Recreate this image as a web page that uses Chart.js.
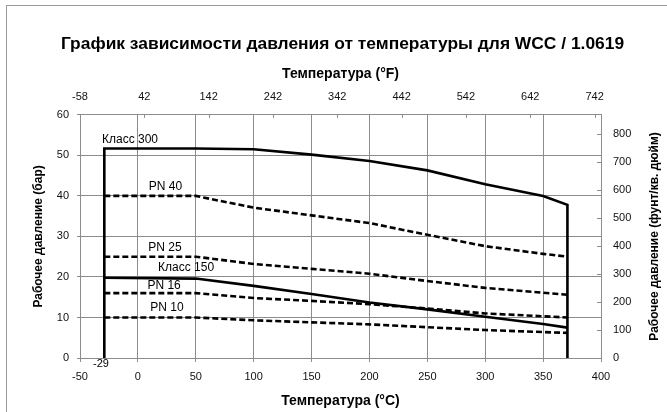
<!DOCTYPE html>
<html>
<head>
<meta charset="utf-8">
<script src="https://cdn.jsdelivr.net/npm/chart.js@4"></script>
<style>
  body { margin: 0; background: #fff; overflow: hidden; }
  #ramka { position: absolute; left: 6px; top: 5px; width: 700px; height: 500px; border: 1px solid #9a9a9a; }
  #kutu { position: absolute; left: 0; top: 0; width: 667px; height: 412px; }
</style>
</head>
<body>
<div id="ramka"></div>
<div id="kutu"><canvas id="grafik" width="667" height="412"></canvas></div>
<script>
// Температура (°C) и давления (бар) по кривым
const temperatury = [-29, 50, 100, 150, 200, 250, 300, 350, 371];
const klass300 = [51.7, 51.7, 51.5, 50.2, 48.6, 46.3, 42.9, 40.0, 37.8];
const klass150 = [19.8, 19.6, 17.8, 15.8, 13.7, 12.0, 10.2, 8.4, 7.5];
const pn40 = [40, 40, 37.1, 35.2, 33.3, 30.4, 27.6, 25.7, 25.0];
const pn25 = [25, 25, 23.2, 22.0, 20.8, 19.0, 17.3, 16.1, 15.6];
const pn16 = [16, 16, 14.8, 14.1, 13.3, 12.2, 11.0, 10.3, 10.0];
const pn10 = [10, 10, 9.3, 8.8, 8.3, 7.6, 6.9, 6.4, 6.2];

// Верхняя шкала (°F)
const tickiF = [-58, 42, 142, 242, 342, 442, 542, 642, 742];

// Подписи кривых (в координатах данных)
const podpisi = ["Класс 300", "PN 40", "PN 25", "Класс 150", "PN 16", "PN 10", "-29"];
const podpisiX = [-6.8, 23.8, 23.4, 41.6, 22.6, 25.1, -31.9];
const podpisiY = [53.9, 42.4, 27.3, 22.4, 17.9, 12.5, -1.5];

const SERYI = "#8c8c8c";
const SHRIFT = "'Liberation Sans', Arial, sans-serif";

const tochki = (ys) => temperatury.map((t, i) => ({ x: t, y: ys[i] }));

// класс 300 замыкается вертикалями до нуля на краях диапазона
const liniya300 = [{ x: temperatury[0], y: 0 }, ...tochki(klass300), { x: temperatury[temperatury.length - 1], y: 0 }];

function nabor(label, data, shtrih) {
  return {
    label, data,
    borderColor: "#000",
    borderWidth: 2.6,
    borderDash: shtrih ? [6, 3] : [],
    pointRadius: 0,
    tension: 0,
    fill: false,
  };
}

const dopolnenie = {
  id: "dopolnenie",
  afterDraw(chart) {
    const { ctx, chartArea: a, scales } = chart;
    ctx.save();
    // короткие внутренние засечки верхней и правой шкал
    ctx.strokeStyle = SERYI;
    ctx.lineWidth = 1;
    for (const t of scales.x2.ticks) {
      const px = Math.round(scales.x2.getPixelForValue(t.value)) + 0.5;
      ctx.beginPath(); ctx.moveTo(px, a.top); ctx.lineTo(px, a.top + 3); ctx.stroke();
    }
    for (const t of scales.y2.ticks) {
      const py = Math.round(scales.y2.getPixelForValue(t.value)) + 0.5;
      ctx.beginPath(); ctx.moveTo(a.right, py); ctx.lineTo(a.right - 4, py); ctx.stroke();
    }
    // подписи кривых
    ctx.fillStyle = "#000";
    ctx.textAlign = "center";
    ctx.textBaseline = "middle";
    podpisi.forEach((txt, i) => {
      ctx.font = (txt === "-29" ? "11px " : "12px ") + SHRIFT;
      ctx.fillText(txt, scales.x.getPixelForValue(podpisiX[i]), scales.y.getPixelForValue(podpisiY[i]));
    });
    // заголовок правой оси (снизу вверх)
    ctx.font = "bold 12px " + SHRIFT;
    ctx.translate(655, (a.top + a.bottom) / 2);
    ctx.rotate(-Math.PI / 2);
    ctx.fillText("Рабочее давление (фунт/кв. дюйм)", 0, 0);
    ctx.restore();
  },
};

Chart.defaults.font.family = SHRIFT;
Chart.defaults.color = "#111";

new Chart(document.getElementById("grafik"), {
  type: "line",
  data: {
    datasets: [
      nabor("Класс 300", liniya300, false),
      nabor("Класс 150", tochki(klass150), false),
      nabor("PN 40", tochki(pn40), true),
      nabor("PN 25", tochki(pn25), true),
      nabor("PN 16", tochki(pn16), true),
      nabor("PN 10", tochki(pn10), true),
    ],
  },
  options: {
    responsive: false,
    animation: false,
    layout: { padding: { left: 18, right: 0, top: 0, bottom: 0 } },
    plugins: {
      legend: { display: false },
      tooltip: { enabled: false },
      title: {
        display: true,
        text: "График зависимости давления от температуры для WCC / 1.0619",
        color: "#000",
        font: { size: 17.4, weight: "bold" },
        lineHeight: 1.1,
        padding: { top: 34, bottom: 0 },
      },
    },
    scales: {
      x: {
        type: "linear", position: "bottom", min: -50, max: 400,
        ticks: { stepSize: 50, padding: 8, font: { size: 11 } },
        grid: { color: SERYI, tickLength: 4 },
        border: { color: SERYI },
        title: { display: true, text: "Температура (°C)", color: "#000", font: { size: 14, weight: "bold" }, padding: { top: 0, bottom: 2 } },
        afterFit: (s) => { s.height = 54; },
      },
      x2: {
        type: "linear", position: "top", min: -58, max: 752,
        afterBuildTicks: (s) => { s.ticks = tickiF.map((v) => ({ value: v })); },
        ticks: { padding: 11, font: { size: 11 } },
        grid: { drawOnChartArea: false, drawTicks: false },
        border: { color: SERYI },
        title: { display: true, text: "Температура (°F)", color: "#000", font: { size: 14, weight: "bold" }, padding: { top: 11, bottom: 0 } },
        afterFit: (s) => { s.height = 60; },
      },
      y: {
        position: "left", min: 0, max: 60,
        ticks: { stepSize: 10, padding: 8, font: { size: 11 } },
        grid: { color: SERYI, tickLength: 3 },
        border: { color: SERYI },
        title: { display: true, text: "Рабочее давление (бар)", color: "#000", font: { size: 12, weight: "bold" }, padding: { top: 13, bottom: 0 } },
        afterFit: (s) => { s.width = 62; },
      },
      y2: {
        position: "right", min: 0, max: 870,
        ticks: { stepSize: 100, includeBounds: false, padding: 12, font: { size: 11 } },
        grid: { drawOnChartArea: false, drawTicks: false },
        border: { color: SERYI },
        afterFit: (s) => { s.width = 66; },
      },
    },
  },
  plugins: [dopolnenie],
});
</script>
</body>
</html>
